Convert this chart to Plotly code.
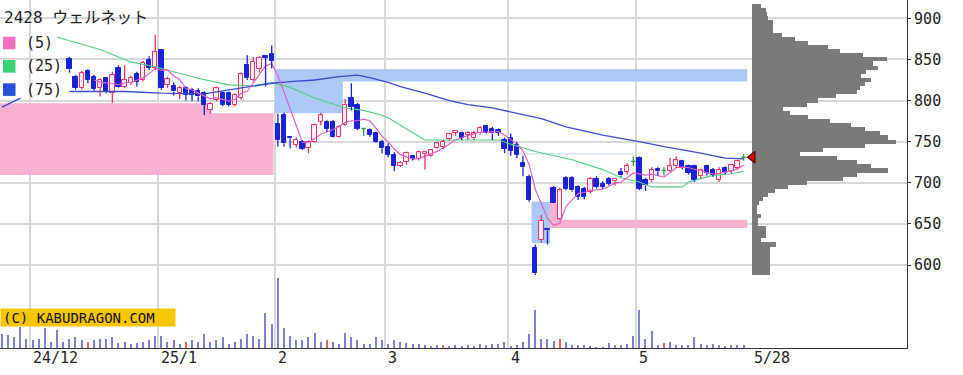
import plotly.graph_objects as go
import pandas as pd

# ---------------- data ----------------
# trading-day index 0 = 2024-11-25 ... 121 = 2025-05-28
FIRST_CANDLE_DAY = 11

opens = [850, 829, 815, 836, 829, 815, 827, 809, 840, 817, 821, 832, 825, 849, 839,
         861, 819, 818, 809, 815, 813, 812, 809, 788, 801, 809, 809, 795, 803, 843, 825, 838, 854, 857,
         772, 782, 756, 746, 750, 742, 750, 774, 774, 774, 756, 770, 803, 795, 766, 764, 760, 750,
         744, 734, 721, 725, 733, 729, 735, 732, 742, 743, 753, 761, 760, 758, 754, 760, 769, 766, 764, 752,
         754, 746, 724, 707, 621, 630, 644, 694, 656, 706, 706, 695, 693, 689, 705, 699, 705, 702, 713, 713, 726,
         730, 703, 703, 717, 715, 714, 720, 726, 720, 720, 708, 720, 716, 703, 718, 714, 718, 731]
highs = [853, 831, 836, 838, 831, 827, 829, 835, 843, 843, 830, 835, 848, 854, 880,
         862, 829, 822, 818, 817, 815, 815, 811, 798, 817, 811, 811, 809, 834, 855, 853, 854, 855, 867,
         784, 785, 756, 755, 752, 752, 772, 785, 776, 776, 770, 802, 821, 797, 767, 766, 762, 752,
         748, 737, 726, 738, 734, 739, 738, 741, 750, 752, 760, 764, 762, 763, 763, 769, 770, 768, 766, 755,
         760, 750, 733, 710, 625, 661, 645, 696, 694, 708, 708, 697, 695, 707, 708, 702, 707, 706, 718, 724, 732,
         732, 706, 719, 719, 719, 730, 732, 728, 722, 722, 717, 722, 718, 719, 720, 723, 728, 735]
lows = [834, 813, 813, 821, 812, 805, 809, 797, 815, 815, 819, 817, 823, 837, 837,
        813, 815, 806, 802, 800, 799, 799, 782, 784, 799, 793, 793, 793, 801, 825, 823, 834, 817, 839,
        744, 744, 742, 743, 740, 736, 749, 770, 762, 755, 755, 769, 788, 764, 757, 756, 749, 736,
        731, 714, 719, 722, 727, 727, 716, 731, 741, 741, 751, 757, 752, 752, 752, 758, 760, 752, 757, 736,
        733, 730, 708, 677, 588, 627, 625, 675, 655, 691, 689, 679, 680, 687, 693, 693, 697, 697, 707, 710, 720,
        691, 690, 701, 709, 709, 713, 718, 716, 710, 701, 705, 709, 707, 701, 710, 711, 716, 727]
closes = [838, 815, 833, 825, 814, 825, 810, 831, 816, 825, 828, 823, 846, 840, 859,
          815, 826, 811, 815, 807, 807, 805, 795, 796, 815, 795, 795, 807, 832, 827, 847, 852, 852, 848,
          752, 748, 754, 752, 741, 750, 770, 782, 766, 756, 768, 795, 792, 766, 766, 758, 750, 742,
          734, 721, 724, 736, 729, 737, 737, 740, 748, 750, 759, 763, 755, 761, 761, 767, 762, 760, 761, 741,
          739, 734, 719, 679, 590, 654, 642, 676, 691, 693, 691, 683, 683, 705, 695, 695, 699, 705, 709, 721, 726,
          693, 697, 715, 714, 715, 720, 728, 718, 712, 703, 716, 712, 710, 716, 712, 722, 726, 731]

# volume for days 0..121 (relative units)
volumes = [137, 127, 110, 210, 93, 77, 93, 200, 60, 183, 60,
           93, 110, 77, 60, 77, 93, 93, 110, 50, 60, 37, 50, 60, 83, 120,
           120, 60, 77, 43, 60, 77, 60, 137, 60, 77, 110, 43, 60, 93, 137, 120, 93, 350, 243,
           703, 200, 120, 77, 77, 110, 153, 60, 77, 60, 37, 153, 110, 77, 43, 43, 110, 83,
           43, 77, 60, 50, 43, 37, 27, 20, 27, 33, 20, 27, 20, 27, 17, 37, 27, 37, 37, 60,
           17, 27, 60, 137, 383, 93, 93, 70, 93, 60, 27, 27, 27, 20, 10, 10, 50, 27, 27, 43, 120,
           383, 93, 170, 27, 50, 60, 27, 27, 27, 110, 43, 27, 43, 27, 17, 27, 27, 27]
vol_red_days = [14, 30, 53, 72, 91, 108]

ma25_days = [9, 16, 21, 25, 28, 32, 37, 41, 44, 47, 51, 56, 59, 62, 63, 69, 81, 83, 87, 93,
             98, 101, 104, 106, 111, 112, 116, 119, 121]
ma25_vals = [877, 862, 847, 841, 835, 827, 819, 818, 822, 816, 803, 791, 788, 782, 779, 752, 752, 747, 738, 728,
             716, 706, 701, 695, 695, 701, 709, 711, 714]
ma75_days = [0, 3, None, 11, 20, 26, 33, 37, 42, 44, 47, 51, 55, 58, 60, 63, 65, 69, 73, 76, 80, 83,
             88, 92, 98, 104, 108, 114, 118, 121]
ma75_vals = [792, 803, None, 811, 811, 809, 808, 813, 819, 821, 823, 825, 829, 831, 828, 822, 817, 809, 800, 795,
             791, 786, 778, 768, 758, 750, 744, 736, 730, 729]

# price-by-volume profile (5-yen bins)
profile_prices = [590, 595, 600, 605, 610, 615, 620, 625, 630, 635, 640, 645, 650, 655, 660, 665, 670, 675,
                  680, 685, 690, 695, 700, 705, 710, 715, 720, 725, 730, 735, 740, 745, 750, 755, 760, 765,
                  770, 775, 780, 785, 790, 795, 800, 805, 810, 815, 820, 825, 830, 835, 840, 845, 850, 855,
                  860, 865, 870, 875, 880, 885, 890, 895, 900, 905, 910, 915]
profile_vols = [18, 18, 18, 18, 18, 18, 18, 24, 9, 14, 14, 14, 6, 6, 9, 5, 5, 7,
                11, 16, 23, 36, 55, 91, 105, 136, 119, 105, 85, 48, 71, 113, 144, 136, 128, 113,
                99, 78, 56, 38, 31, 55, 66, 84, 105, 108, 113, 119, 109, 114, 126, 121, 135, 111,
                88, 76, 56, 43, 30, 21, 21, 21, 16, 15, 14, 9]

# unfilled price gaps (windows)
gap_start = [-0.34, 34.1, 44.5, 55.6, 84.3, 86.4, 89.4, 91.05]
gap_end = [34.1, 44.3, 55.6, 121.6, 103.0, 89.4, 91.05, 121.6]
gap_low = [709.5, 709.5, 784.5, 823, 734.6, 626.5, 645, 645]
gap_high = [796.7, 784.5, 838, 838, 735.6, 677, 675, 655]
gap_kind = ["pink", "pink", "blue", "blue", "blue", "blue", "pink", "pink"]

month_start_days = [5, 26, 45, 63, 83, 104]
month_labels = ["24/12", "25/1", "2", "3", "4", "5"]
last_label = "5/28"
last_price = 731
price_ticks = [600, 650, 700, 750, 800, 850, 900]
title_text = "2428 ウェルネット"
legend_labels = ["(5)", "(25)", "(75)"]
copyright_text = "(C) KABUDRAGON.COM"

# ---------------- styles ----------------
UP_LINE, UP_FILL = "#e8306a", "#ffeef4"
DN_COLOR = "#1a22d6"
DOJI_COLOR = "#2e9a3c"
MA5_C, MA25_C, MA75_C = "#e060c8", "#55cc80", "#3a4cc8"
LEG_C = ["#f070c0", "#3dd17a", "#2a4fd8"]
GAP_C = {"pink": "#f6b0d0", "blue": "#abc9f4"}
VOL_C, VOL_RED = "#7d80cc", "#d86a5a"
FONT = "DejaVu Sans Mono, Noto Sans CJK JP"
GRID = "#d8d8d8"
PLOT_W, PLOT_H = 907, 348
X0, X1 = -0.337, 147.66
PROFILE_LEFT_PX = 752

days = list(range(FIRST_CANDLE_DAY, FIRST_CANDLE_DAY + len(opens)))
ma5 = pd.Series(closes).rolling(5).mean().tolist()

fig = go.Figure()

# volume bars
vol_days = list(range(len(volumes)))
fig.add_trace(go.Bar(x=vol_days, y=volumes, width=0.2, yaxis="y2",
                     marker=dict(color=[VOL_RED if d in vol_red_days else VOL_C for d in vol_days],
                                 line=dict(width=0)), hoverinfo="skip"))

# candles
groups = {"up": ([], [], []), "down": ([], [], []), "doji": ([], [], [])}
wicks = {"up": ([], []), "down": ([], []), "doji": ([], [])}
for d, o, h, l, c in zip(days, opens, highs, lows, closes):
    k = "up" if c > o else ("down" if c < o else "doji")
    top, bot = max(o, c), min(o, c)
    wx, wy = wicks[k]
    wx += [d, d, None, d, d, None]
    wy += [top, h, None, l, bot, None]
    if k == "doji":
        wx += [d - 0.36, d + 0.36, None]
        wy += [o, o, None]
    else:
        gx, gb, gh = groups[k]
        gx.append(d); gb.append(bot); gh.append(top - bot)

for k, fill, line in [("up", UP_FILL, UP_LINE), ("down", DN_COLOR, DN_COLOR)]:
    gx, gb, gh = groups[k]
    fig.add_trace(go.Bar(x=gx, y=gh, base=gb, width=0.7,
                         marker=dict(color=fill, line=dict(color=line, width=1)), hoverinfo="skip"))

fig.add_trace(go.Scatter(x=ma25_days, y=ma25_vals, mode="lines", line=dict(color=MA25_C, width=1.1),
                         hoverinfo="skip"))
fig.add_trace(go.Scatter(x=ma75_days, y=ma75_vals, mode="lines", line=dict(color=MA75_C, width=1.3),
                         hoverinfo="skip", connectgaps=False))
fig.add_trace(go.Scatter(x=days, y=ma5, mode="lines", line=dict(color=MA5_C, width=1.2), hoverinfo="skip"))

for k, col in [("up", UP_LINE), ("down", DN_COLOR), ("doji", DOJI_COLOR)]:
    wx, wy = wicks[k]
    fig.add_trace(go.Scatter(x=wx, y=wy, mode="lines", line=dict(color=col, width=1.3), hoverinfo="skip"))

# volume profile
fig.add_trace(go.Bar(x=profile_vols, y=profile_prices, orientation="h", width=5, xaxis="x2",
                     marker=dict(color="#7a7a7a", line=dict(width=0)), hoverinfo="skip"))
# current price marker
fig.add_trace(go.Scatter(x=[0.5], y=[last_price], xaxis="x2", mode="markers", cliponaxis=False,
                         marker=dict(symbol="triangle-left", size=10, color="#e00000",
                                     line=dict(color="#500000", width=1.2)), hoverinfo="skip"))

shapes = []
for s, e, lo, hi, kd in zip(gap_start, gap_end, gap_low, gap_high, gap_kind):
    shapes.append(dict(type="rect", xref="x", yref="y", x0=s, x1=e, y0=lo, y1=hi,
                       fillcolor=GAP_C[kd], line=dict(width=0), layer="between"))

def px(xp):
    return xp / PLOT_W

def py(yp):
    return 1 - yp / PLOT_H

annotations = [dict(text=title_text, x=px(2), y=py(18), xref="paper", yref="paper", xanchor="left",
                    yanchor="middle", showarrow=False, font=dict(family=FONT, size=16, color="#222"))]
for j, (lab, col) in enumerate(zip(legend_labels, LEG_C)):
    yc = 43 + 23.3 * j
    shapes.append(dict(type="rect", xref="paper", yref="paper", x0=px(3), x1=px(15.5),
                       y0=py(yc + 6.3), y1=py(yc - 6.3), fillcolor=col, line=dict(width=0), layer="above"))
    annotations.append(dict(text=lab, x=px(24), y=py(yc), xref="paper", yref="paper", xanchor="left",
                            yanchor="middle", showarrow=False, font=dict(family=FONT, size=15, color="#222")))

annotations.append(dict(text=copyright_text, x=0, y=py(317.5), xref="paper", yref="paper", xanchor="left",
                        yanchor="middle", showarrow=False, bgcolor="#f7c600", width=170, height=13,
                        borderpad=2, align="left", font=dict(family=FONT, size=14, color="#111")))

for d, lab in zip(month_start_days, month_labels):
    annotations.append(dict(text=lab, x=d - 0.35, y=-9.5 / PLOT_H, xref="x", yref="paper", xanchor="left",
                            yanchor="middle", showarrow=False, font=dict(family=FONT, size=15, color="#222")))
annotations.append(dict(text=last_label, x=days[-1] + 1.3, y=-9.5 / PLOT_H, xref="x", yref="paper",
                        xanchor="left", yanchor="middle", showarrow=False,
                        font=dict(family=FONT, size=15, color="#222")))

fig.update_layout(
    width=963, height=375, margin=dict(l=0, r=56, t=0, b=27),
    paper_bgcolor="white", plot_bgcolor="white", showlegend=False,
    barmode="overlay", bargap=0, shapes=shapes, annotations=annotations,
    xaxis=dict(range=[X0, X1], domain=[0, 1], tickvals=[d - 0.5 for d in month_start_days],
               showticklabels=False, ticks="", showgrid=True, gridcolor=GRID, gridwidth=1.5,
               showline=True, linecolor="#333", linewidth=1.2, zeroline=False, fixedrange=True),
    xaxis2=dict(domain=[PROFILE_LEFT_PX / PLOT_W, 1], anchor="y", range=[0, PLOT_W - PROFILE_LEFT_PX],
                visible=False, fixedrange=True),
    yaxis=dict(range=[499.1, 922.25], side="right", tickvals=price_ticks, ticks="outside", ticklen=3,
               tickcolor="#333", showline=True, linecolor="#333", linewidth=1.2, showgrid=True,
               gridcolor=GRID, gridwidth=1.5, zeroline=False,
               tickfont=dict(family=FONT, size=15, color="#222"), fixedrange=True),
    yaxis2=dict(overlaying="y", range=[0, 3480], visible=False, fixedrange=True),
)

fig.write_html("out.html", config={"displayModeBar": False},
               post_script="document.body.style.margin='0';document.body.style.overflow='hidden';")
